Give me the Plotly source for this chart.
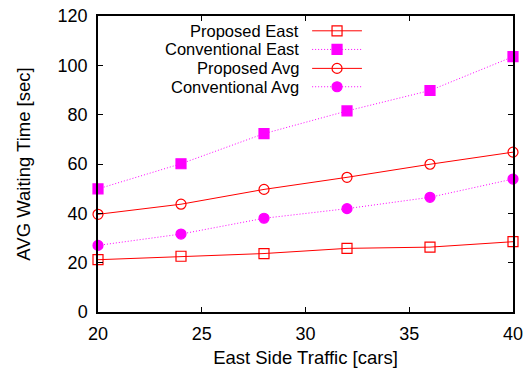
import plotly.graph_objects as go

traffic = [20, 24, 28, 32, 36, 40]
proposed_east = [21.2, 22.6, 23.7, 25.8, 26.3, 28.5]
conventional_east = [49.9, 60.1, 72.3, 81.5, 89.8, 103.5]
proposed_avg = [39.6, 43.7, 49.7, 54.6, 59.9, 64.8]
conventional_avg = [27.0, 31.6, 38.0, 41.9, 46.5, 53.9]

series_names = ["Proposed East", "Conventional East", "Proposed Avg", "Conventional Avg"]
series_values = [proposed_east, conventional_east, proposed_avg, conventional_avg]

FONT = "Liberation Sans, Arial, Helvetica, sans-serif"
RED = "#ff0000"
MAG = "#ff00ff"
DOTS = "1px,2px"
styles = [
    dict(color=RED, dash="solid", symbol="square-open", msize=10),
    dict(color=MAG, dash=DOTS, symbol="square", msize=10),
    dict(color=RED, dash="solid", symbol="circle-open", msize=10),
    dict(color=MAG, dash=DOTS, symbol="circle", msize=10),
]

fig = go.Figure()
for name, vals, st in zip(series_names, series_values, styles):
    fig.add_trace(go.Scatter(
        x=traffic, y=vals, mode="lines+markers", name=name, showlegend=False,
        line=dict(color=st["color"], dash=st["dash"], width=1),
        marker=dict(symbol=st["symbol"], size=st["msize"], color=st["color"],
                    line=dict(color=st["color"], width=1.2)),
        cliponaxis=False,
    ))

# manual gnuplot-style key (text right, sample on right)
legend_rows = [0.950, 0.887, 0.823, 0.761]
for name, st, yr in zip(series_names, styles, legend_rows):
    fig.add_trace(go.Scatter(
        x=[0.516, 0.636], y=[yr, yr], mode="lines", xaxis="x2", yaxis="y2",
        showlegend=False, hoverinfo="skip",
        line=dict(color=st["color"], dash=st["dash"], width=1),
    ))
    fig.add_trace(go.Scatter(
        x=[0.576], y=[yr], mode="markers", xaxis="x2", yaxis="y2",
        showlegend=False, hoverinfo="skip",
        marker=dict(symbol=st["symbol"], size=st["msize"], color=st["color"],
                    line=dict(color=st["color"], width=1.2)),
    ))
    fig.add_annotation(
        x=0.487, y=yr, xref="x2", yref="y2", text=name, showarrow=False,
        xanchor="right", yanchor="middle", borderpad=0,
        font=dict(size=16.5, color="black", family=FONT),
    )

axis_common = dict(
    showline=True, linecolor="black", linewidth=1.5, mirror="ticks",
    ticks="inside", ticklen=5, tickcolor="black", tickwidth=1,
    showgrid=False, zeroline=False, automargin=False,
    tickfont=dict(size=18, color="black", family=FONT),
)

fig.update_layout(
    width=527, height=370,
    margin=dict(l=98, r=14, t=16, b=58),
    paper_bgcolor="white", plot_bgcolor="white",
    font=dict(family=FONT, size=18, color="black"),
    xaxis=dict(range=[20, 40], tickvals=[20, 25, 30, 35, 40], ticklabelstandoff=5,
               title=dict(text="East Side Traffic [cars]", font=dict(size=18.5), standoff=8),
               **axis_common),
    yaxis=dict(range=[0, 120], tickvals=[0, 20, 40, 60, 80, 100, 120], ticklabelstandoff=5,
               title=dict(text="AVG Waiting Time [sec]", font=dict(size=18.5), standoff=22),
               **axis_common),
    xaxis2=dict(range=[0, 1], overlaying="x", visible=False, fixedrange=True),
    yaxis2=dict(range=[0, 1], overlaying="y", visible=False, fixedrange=True),
)

fig.write_html(
    "out.html",
    config={"displayModeBar": False},
    post_script="document.body.style.margin='0';document.body.style.padding='0';",
)
